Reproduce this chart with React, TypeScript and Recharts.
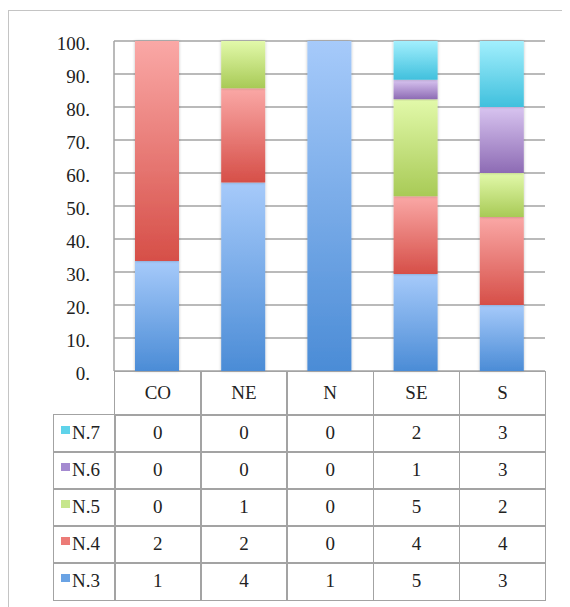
import { Bar, BarChart, CartesianGrid, XAxis, YAxis } from 'recharts'

const categorias = ['CO', 'NE', 'N', 'SE', 'S']
const n3 = [1, 4, 1, 5, 3]
const n4 = [2, 2, 0, 4, 4]
const n5 = [0, 1, 0, 5, 2]
const n6 = [0, 0, 0, 1, 3]
const n7 = [0, 0, 0, 2, 3]
const ticksY = [0, 10, 20, 30, 40, 50, 60, 70, 80, 90, 100]

const series = [
  { key: 'n3', nombre: 'N.3', valores: n3, arriba: '#a6cafa', abajo: '#4b8cd6', clave: '#6aa3e4' },
  { key: 'n4', nombre: 'N.4', valores: n4, arriba: '#faa8a6', abajo: '#d64f48', clave: '#ec7b77' },
  { key: 'n5', nombre: 'N.5', valores: n5, arriba: '#e2f9aa', abajo: '#a8ca56', clave: '#c6e68c' },
  { key: 'n6', nombre: 'N.6', valores: n6, arriba: '#d8c4f0', abajo: '#8d6bb4', clave: '#a48ad0' },
  { key: 'n7', nombre: 'N.7', valores: n7, arriba: '#a2effd', abajo: '#40c0dd', clave: '#5fd3ea' },
]

const datos = categorias.map((c, i) => {
  const fila: Record<string, string | number> = { cat: c }
  series.forEach((s) => (fila[s.key] = s.valores[i]))
  return fila
})

const GRIS = '#a3a3a3'
const FUENTE = 'Liberation Serif'
const TAM = 19

// geometría de la tabla (coordenadas del contenedor)
const X0 = 106
const ANCHO_COL = 86.2
const Y_CAB = 363
const ALTO_CAB = 43
const ALTO_FILA = 37
const X_LEYENDA = 45

function Celda({ x, y, w, h, children }: { x: number; y: number; w: number; h: number; children?: any }) {
  return (
    <div
      style={{
        position: 'absolute',
        left: x,
        top: y,
        width: w + 1.5,
        height: h + 1.5,
        boxSizing: 'border-box',
        border: `1.5px solid ${GRIS}`,
        display: 'flex',
        alignItems: 'center',
        justifyContent: 'center',
        fontFamily: FUENTE,
        fontSize: TAM,
        color: '#222',
      }}
    >
      {children}
    </div>
  )
}

export default function App() {
  const filas = [...series].reverse()
  return (
    <div style={{ position: 'relative', width: 562, height: 599, overflow: 'hidden', background: '#fff' }}>
      <div
        style={{
          position: 'absolute',
          left: 0,
          top: 2,
          width: 600,
          height: 640,
          border: '1.5px solid #c4c4c4',
          boxSizing: 'border-box',
        }}
      />
      <div style={{ position: 'absolute', left: 0, top: 0 }}>
        <BarChart
          width={562}
          height={395}
          data={datos}
          stackOffset="expand"
          barSize={44}
          margin={{ top: 33, right: 25, left: 26, bottom: 32 }}
        >
          <defs>
            {series.map((s) => (
              <linearGradient key={s.key} id={`g-${s.key}`} x1="0" y1="0" x2="0" y2="1">
                <stop offset="0%" stopColor={s.arriba} />
                <stop offset="100%" stopColor={s.abajo} />
              </linearGradient>
            ))}
            <filter id="sombra" x="-20%" y="-5%" width="140%" height="110%">
              <feDropShadow dx="0" dy="0" stdDeviation="1.5" floodColor="#000" floodOpacity="0.25" />
            </filter>
          </defs>
          <CartesianGrid vertical={false} stroke={GRIS} strokeWidth={1.5} />
          <XAxis dataKey="cat" hide />
          <YAxis
            width={80}
            domain={[0, 1]}
            ticks={ticksY.map((t) => t / 100)}
            tickFormatter={(v: number) => `${Math.round(v * 100)}.`}
            tick={{ fontSize: TAM, fill: '#222', fontFamily: FUENTE, dy: 2 }}
            tickLine={false}
            tickSize={0}
            tickMargin={24}
            axisLine={{ stroke: GRIS, strokeWidth: 1.5 }}
            interval={0}
          />
          {series.map((s) => (
            <Bar
              key={s.key}
              dataKey={s.key}
              stackId="a"
              fill={`url(#g-${s.key})`}
              filter="url(#sombra)"
              isAnimationActive={false}
            />
          ))}
        </BarChart>
      </div>

      {categorias.map((c, i) => (
        <Celda key={c} x={X0 + i * ANCHO_COL} y={Y_CAB} w={ANCHO_COL} h={ALTO_CAB}>
          {c}
        </Celda>
      ))}
      {filas.map((s, r) => {
        const y = Y_CAB + ALTO_CAB + r * ALTO_FILA
        return (
          <div key={s.key}>
            <Celda x={X_LEYENDA} y={y} w={X0 - X_LEYENDA} h={ALTO_FILA}>
              <div style={{ display: 'flex', alignItems: 'flex-start', width: '100%', paddingLeft: 7 }}>
                <span
                  style={{
                    display: 'inline-block',
                    width: 9,
                    height: 8,
                    background: s.clave,
                    marginTop: 4,
                    marginRight: 2,
                  }}
                />
                <span>{s.nombre}</span>
              </div>
            </Celda>
            {s.valores.map((v, i) => (
              <Celda key={i} x={X0 + i * ANCHO_COL} y={y} w={ANCHO_COL} h={ALTO_FILA}>
                {v}
              </Celda>
            ))}
          </div>
        )
      })}
    </div>
  )
}
